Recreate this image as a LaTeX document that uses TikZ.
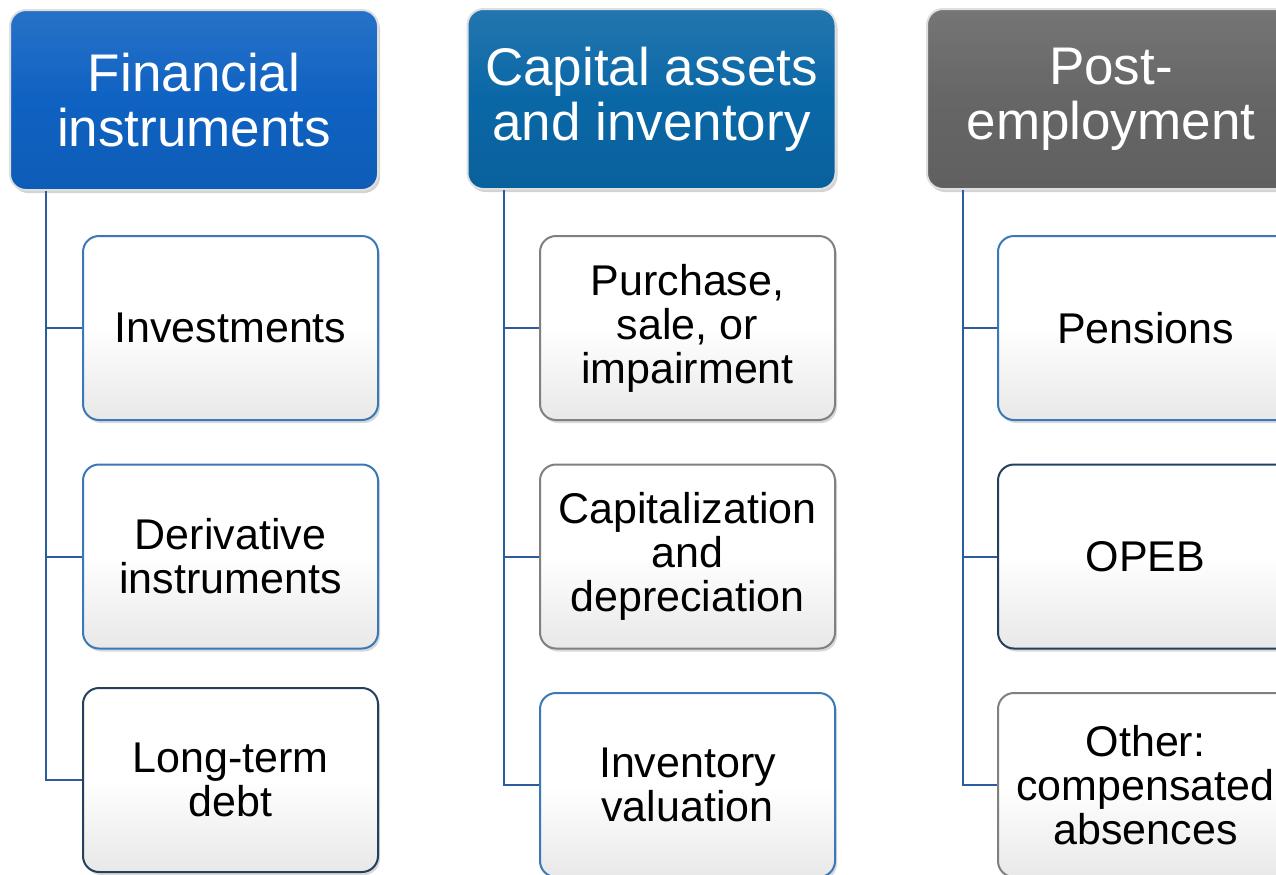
\documentclass[tikz,border=0pt]{standalone}
\usepackage{fontspec}
\setmainfont{Liberation Sans}
\usetikzlibrary{shadows}

\definecolor{finblue}{HTML}{0F62C2}
\definecolor{capblue}{HTML}{0A67A6}
\definecolor{postgray}{HTML}{666666}
\definecolor{edgeblue}{HTML}{3A78B8}
\definecolor{edgenavy}{HTML}{24405F}
\definecolor{edgegray}{HTML}{808080}
\definecolor{linkblue}{HTML}{2A5C9E}

\tikzset{
  head/.style={rounded corners=8pt, minimum width=184pt, minimum height=90pt,
    draw=gray!25, line width=1pt, text=white, align=center,
    top color=#1!90!white, bottom color=#1!94!black, middle color=#1,
    font=\fontsize{26.5}{27.5}\selectfont,
    drop shadow={opacity=.35, shadow xshift=1pt, shadow yshift=-1.5pt}},
  item/.style={rounded corners=8pt, minimum width=147.5pt, minimum height=92pt,
    draw=#1, line width=1pt, align=center,
    top color=white, bottom color=gray!18, middle color=white,
    font=\fontsize{21.5}{22}\selectfont,
    drop shadow={opacity=.3, shadow xshift=1pt, shadow yshift=-1.5pt}},
  link/.style={draw=linkblue, line width=1pt}
}

\begin{document}
\begin{tikzpicture}[x=0.5pt, y=-0.5pt]
\useasboundingbox (0,0) rectangle (1276,874);
\clip (0,0) rectangle (1276,874);

\node[head=finblue] (fin) at (194,100) {Financial\\instruments};
\node[head=capblue] (cap) at (651.5,99) {Capital assets\\and inventory};
\node[head=postgray] (post) at (1111,99) {Post-\\employment};

\node[item=edgeblue] (inv) at (230.5,328) {Investments};
\node[item=edgeblue] (deriv) at (230.5,556.5) {Derivative\\instruments};
\node[item=edgenavy] (debt) at (230.5,780) {Long-term\\debt};

\node[item=edgegray] (purch) at (687.5,328) {Purchase,\\sale, or\\impairment};
\node[item=edgegray] (capdep) at (687.5,556.5) {Capitalization\\and\\depreciation};
\node[item=edgeblue] (invval) at (687.5,785) {Inventory\\valuation};

\node[item=edgeblue] (pens) at (1145.5,328) {Pensions};
\node[item=edgenavy] (opeb) at (1145.5,556.5) {OPEB};
\node[item=edgegray] (other) at (1145.5,785) {Other:\\compensated\\absences};

\foreach \h/\c in {fin/inv, fin/deriv, fin/debt, cap/purch, cap/capdep, cap/invval,
                   post/pens, post/opeb, post/other}
  \draw[link] (\h.south west) ++(37,0) |- (\c.west);
\end{tikzpicture}
\end{document}
